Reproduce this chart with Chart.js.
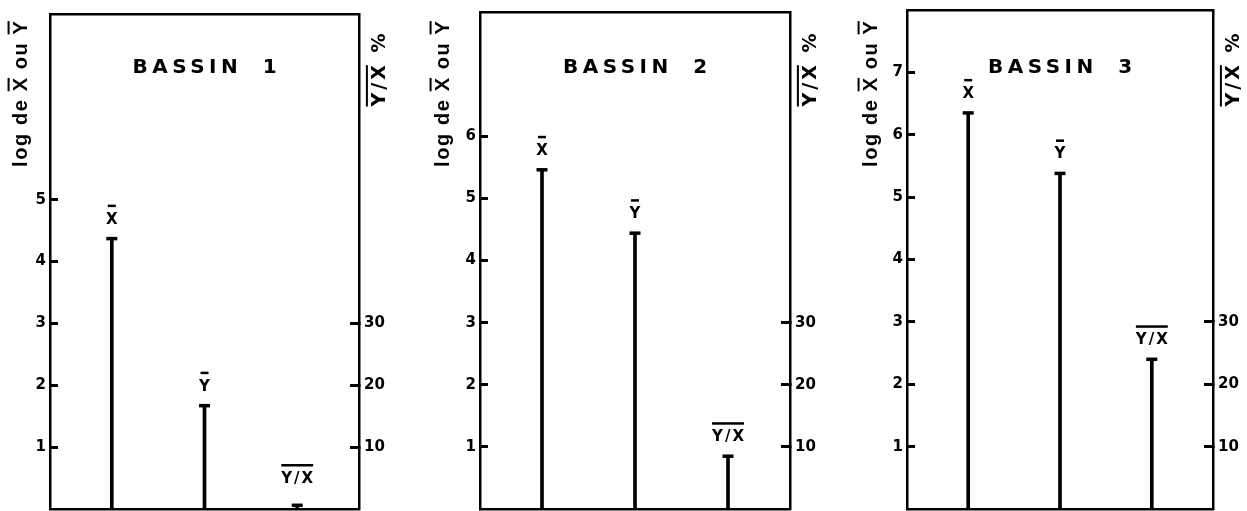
<!DOCTYPE html>
<html>
<head>
<meta charset="utf-8">
<script src="https://cdn.jsdelivr.net/npm/chart.js@4/dist/chart.umd.min.js"></script>
<style>
  html, body { margin: 0; padding: 0; background: #fff; }
  body { width: 1247px; height: 511px; overflow: hidden; position: relative; }
  canvas { position: absolute; top: 0; }
</style>
</head>
<body>
<canvas id="c1" width="415" height="511" style="left:0px"></canvas>
<canvas id="c2" width="420" height="511" style="left:415px"></canvas>
<canvas id="c3" width="412" height="511" style="left:835px"></canvas>
<script>
// ---------- data ----------
const panelTitles = ['BASSIN 1', 'BASSIN 2', 'BASSIN 3'];
const categories = ['X', 'Y', 'Y/X'];          // drawn with an overline
const meanX = [4.37, 5.46, 6.35];              // log de X̄
const meanY = [1.67, 4.44, 5.38];              // log de Ȳ
const ratioYX = [0.6, 8.5, 24.0];              // Y/X  (%)
const leftTicks = [[1, 2, 3, 4, 5], [1, 2, 3, 4, 5, 6], [1, 2, 3, 4, 5, 6, 7]];
const rightTicks = [10, 20, 30];
const leftTitleParts = ['log de ', 'X', ' ou ', 'Y'];
const leftTitleOver = [false, true, false, true];
const rightTitleParts = ['Y/X', ' %'];
const rightTitleOver = [true, false];

// ---------- layout / style ----------
const INK = '#000';
const FAMILY = '"Liberation Sans", Arial, Helvetica, sans-serif';
const HEAVY = '"DejaVu Sans", "Liberation Sans", sans-serif';
const layouts = [
  { id: 'c1', yWidth: 50, y1Width: 56, top: 14, leftTitleX: 22 },
  { id: 'c2', yWidth: 65, y1Width: 45, top: 12, leftTitleX: 29 },
  { id: 'c3', yWidth: 72, y1Width: 34, top: 10, leftTitleX: 37 }
];

function drawRotated(ctx, cx, cy, parts, over, font, spacing, capH) {
  ctx.save();
  ctx.translate(cx, cy);
  ctx.rotate(-Math.PI / 2);
  ctx.font = font;
  ctx.letterSpacing = spacing + 'px';
  ctx.fillStyle = INK;
  ctx.textAlign = 'left';
  ctx.textBaseline = 'alphabetic';
  const widths = parts.map(s => ctx.measureText(s).width);
  const total = widths.reduce((a, b) => a + b, 0) - spacing;
  let x = -total / 2;
  const base = capH * 0.35;
  parts.forEach((s, i) => {
    ctx.fillText(s, x, base);
    if (over[i]) {
      ctx.fillRect(x, base - capH - 5, widths[i] - spacing, 2);
    }
    x += widths[i];
  });
  ctx.restore();
}

const overlayPlugin = {
  id: 'overlay',
  afterDraw(chart, args, opts) {
    const p = opts.panel;
    const L = layouts[p];
    const { ctx, chartArea: a, scales } = chart;
    ctx.save();
    // top border of the frame
    ctx.fillStyle = INK;
    ctx.fillRect(a.left - 1, a.top - 1, a.right - a.left + 2, 2.5);

    // panel title
    ctx.font = 'bold 20px ' + HEAVY;
    ctx.letterSpacing = '4.5px';
    try { ctx.wordSpacing = '9px'; } catch (e) {}
    ctx.textAlign = 'left';
    ctx.textBaseline = 'alphabetic';
    const tw = ctx.measureText(panelTitles[p]).width - 4.5;
    ctx.fillText(panelTitles[p], (a.left + a.right) / 2 - tw / 2, 73);
    ctx.letterSpacing = '0px';
    try { ctx.wordSpacing = '0px'; } catch (e) {}

    // labels above each stem
    const vals = [meanX[p], meanY[p], ratioYX[p]];
    categories.forEach((c, i) => {
      const sc = i < 2 ? scales.y : scales.y1;
      const px = scales.x.getPixelForValue(i);
      const py = sc.getPixelForValue(vals[i]);
      const base = Math.min(py - 15, a.bottom - 26);
      const sp = c.length > 1 ? 2 : 0;
      ctx.font = 'bold 15px ' + HEAVY;
      ctx.letterSpacing = sp + 'px';
      const w = ctx.measureText(c).width - sp;
      ctx.fillText(c, px - w / 2, base);
      const ow = c.length > 1 ? w : 8;
      ctx.fillRect(px - ow / 2, base - 19, ow, 2.5);
    });
    ctx.letterSpacing = '0px';
    ctx.restore();

    // axis titles
    drawRotated(ctx, L.leftTitleX, 94, leftTitleParts, leftTitleOver,
      'bold 20px ' + FAMILY, 1.6, 14.5);
    drawRotated(ctx, a.right + 21, 70, rightTitleParts, rightTitleOver,
      'bold 19px ' + HEAVY, 3, 14);
  }
};

layouts.forEach((L, p) => {
  const stemPts = [{ x: 0, y: meanX[p] }, { x: 1, y: meanY[p] }];
  const ratioPts = [{ x: 2, y: ratioYX[p] }];
  const capStyle = {
    type: 'scatter', pointStyle: 'line', pointRadius: 5.5, pointHoverRadius: 5.5,
    pointBorderWidth: 3.5, pointBorderColor: INK, pointBackgroundColor: INK, showLine: false
  };
  const tickFont = { family: HEAVY, size: 15, weight: 'bold' };
  new Chart(document.getElementById(L.id), {
    type: 'bar',
    data: {
      datasets: [
        { type: 'bar', data: stemPts, yAxisID: 'y', backgroundColor: INK, barThickness: 3, grouped: false },
        { type: 'bar', data: ratioPts, yAxisID: 'y1', backgroundColor: INK, barThickness: 3, grouped: false },
        Object.assign({ data: stemPts, yAxisID: 'y' }, capStyle),
        Object.assign({ data: ratioPts, yAxisID: 'y1' }, capStyle)
      ]
    },
    options: {
      responsive: false,
      animation: false,
      devicePixelRatio: 1,
      layout: { padding: { top: L.top, left: 0, right: 0, bottom: 0 }, autoPadding: false },
      plugins: { legend: { display: false }, tooltip: { enabled: false }, title: { display: false },
        overlay: { panel: p } },
      scales: {
        x: {
          type: 'linear', min: -2 / 3, max: 8 / 3, offset: false,
          ticks: { display: false },
          grid: { display: false, drawTicks: false },
          border: { display: true, color: INK, width: 2.5 },
          afterFit: s => { s.height = 2; s.paddingLeft = 0; s.paddingRight = 0; }
        },
        y: {
          type: 'linear', position: 'left', min: 0, max: 8,
          afterBuildTicks: s => { s.ticks = leftTicks[p].map(v => ({ value: v })); },
          ticks: { font: tickFont, color: INK, padding: 12 },
          grid: { drawOnChartArea: false, drawTicks: true, tickLength: -8, tickWidth: 3, tickColor: INK },
          border: { display: true, color: INK, width: 2.5 },
          afterFit: s => { s.width = L.yWidth; s.paddingTop = 0; s.paddingBottom = 0; }
        },
        y1: {
          type: 'linear', position: 'right', min: 0, max: 80,
          afterBuildTicks: s => { s.ticks = rightTicks.map(v => ({ value: v })); },
          ticks: { font: tickFont, color: INK, padding: 14 },
          grid: { drawOnChartArea: false, drawTicks: true, tickLength: -9, tickWidth: 3, tickColor: INK },
          border: { display: true, color: INK, width: 2.5 },
          afterFit: s => { s.width = L.y1Width; s.paddingTop = 0; s.paddingBottom = 0; }
        }
      }
    },
    plugins: [overlayPlugin]
  });
});
</script>
</body>
</html>
